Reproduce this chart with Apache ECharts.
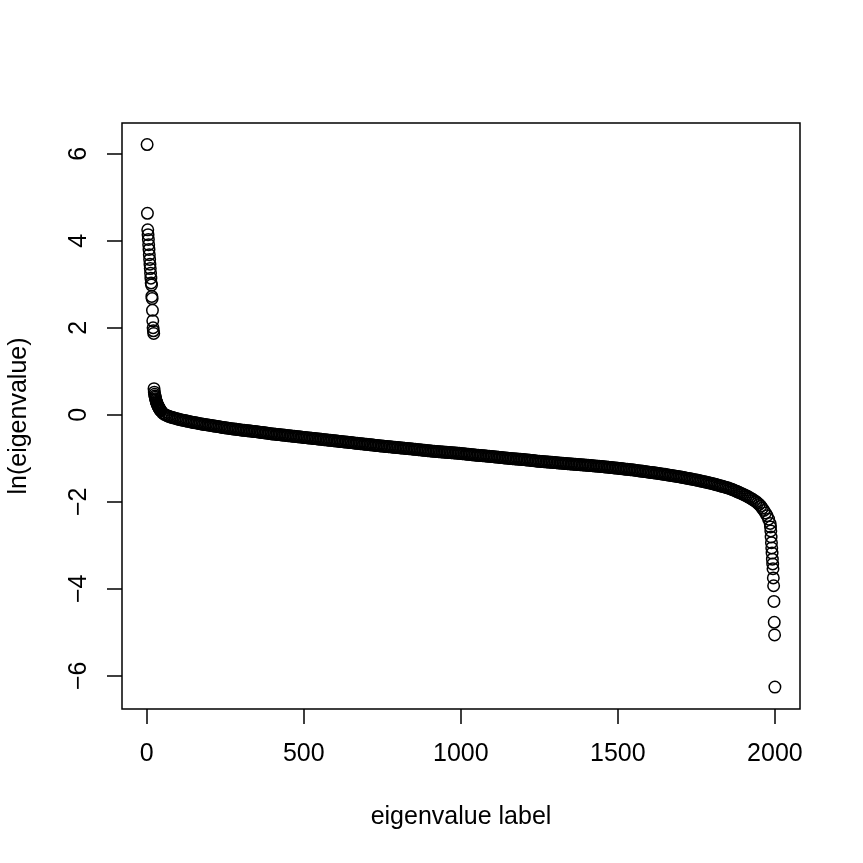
<!DOCTYPE html>
<html>
<head>
<meta charset="utf-8">
<script src="https://cdn.jsdelivr.net/npm/echarts@6/dist/echarts.min.js"></script>
<style>
html,body{margin:0;padding:0;background:#fff;}
#c{width:863px;height:863px;}
</style>
</head>
<body>
<div id="c"></div>
<script>
// x tick labels and y tick labels
const xTicks = [0, 500, 1000, 1500, 2000];
const yTicks = [-6, -4, -2, 0, 2, 4, 6];

// ln(eigenvalue) for labels 1..22 (isolated large values)
const highStart = 1;
const highValues = [6.21, 4.63, 4.25, 4.14, 4.03, 3.91, 3.80, 3.68, 3.57, 3.46, 3.36,
  3.25, 3.14, 3.03, 2.98, 2.72, 2.67, 2.40, 2.16, 2.00, 1.93, 1.87];

// labels 23..44, one per label
const headStart = 23;
const headValues = [0.60, 0.52, 0.47, 0.43, 0.40, 0.37, 0.34, 0.31, 0.29, 0.27, 0.25,
  0.23, 0.21, 0.20, 0.185, 0.17, 0.155, 0.14, 0.13, 0.12, 0.11, 0.10];

// labels 45..1985, read every 5th label along the dense band
const bodyStart = 45, bodyStep = 5;
const bodyValues = [
  0.09, 0.04, 0.015, -0.005, -0.02, -0.035, -0.05, -0.06, -0.07, -0.08,
  -0.09, -0.10, -0.11, -0.12, -0.125, -0.13, -0.14, -0.15, -0.155, -0.165,
  -0.17, -0.18, -0.185, -0.19, -0.20, -0.205, -0.21, -0.22, -0.225, -0.23,
  -0.235, -0.24, -0.245, -0.25, -0.26, -0.265, -0.27, -0.275, -0.28, -0.29,
  -0.295, -0.30, -0.305, -0.31, -0.315, -0.32, -0.325, -0.33, -0.335, -0.34,
  -0.345, -0.35, -0.354, -0.358, -0.362, -0.366, -0.37, -0.374, -0.378, -0.382,
  -0.386, -0.39, -0.395, -0.40, -0.405, -0.41, -0.415, -0.42, -0.425, -0.43,
  -0.435, -0.44, -0.444, -0.448, -0.452, -0.456, -0.46, -0.464, -0.468, -0.472,
  -0.476, -0.48, -0.484, -0.488, -0.492, -0.496, -0.50, -0.504, -0.508, -0.512,
  -0.516, -0.52, -0.524, -0.528, -0.532, -0.536, -0.54, -0.544, -0.548, -0.552,
  -0.556, -0.56, -0.564, -0.568, -0.572, -0.576, -0.58, -0.584, -0.588, -0.592,
  -0.596, -0.60, -0.604, -0.608, -0.612, -0.616, -0.62, -0.624, -0.628, -0.632,
  -0.636, -0.64, -0.644, -0.648, -0.652, -0.656, -0.66, -0.664, -0.668, -0.672,
  -0.676, -0.68, -0.684, -0.688, -0.692, -0.696, -0.70, -0.704, -0.708, -0.712,
  -0.716, -0.72, -0.724, -0.727, -0.731, -0.734, -0.738, -0.741, -0.745, -0.748,
  -0.752, -0.755, -0.759, -0.762, -0.766, -0.769, -0.773, -0.776, -0.78, -0.783,
  -0.787, -0.79, -0.794, -0.798, -0.802, -0.806, -0.81, -0.814, -0.818, -0.822,
  -0.826, -0.83, -0.833, -0.836, -0.839, -0.842, -0.845, -0.848, -0.851, -0.854,
  -0.857, -0.86, -0.863, -0.866, -0.869, -0.872, -0.875, -0.878, -0.881, -0.884,
  -0.887, -0.89, -0.894, -0.898, -0.902, -0.906, -0.91, -0.914, -0.918, -0.922,
  -0.926, -0.93, -0.933, -0.936, -0.939, -0.942, -0.945, -0.948, -0.951, -0.954,
  -0.957, -0.96, -0.964, -0.968, -0.972, -0.976, -0.98, -0.984, -0.988, -0.992,
  -0.996, -1.00, -1.003, -1.006, -1.009, -1.012, -1.015, -1.018, -1.021, -1.024,
  -1.027, -1.03, -1.034, -1.038, -1.042, -1.046, -1.05, -1.054, -1.058, -1.062,
  -1.066, -1.07, -1.073, -1.076, -1.079, -1.082, -1.085, -1.088, -1.091, -1.094,
  -1.097, -1.10, -1.103, -1.106, -1.109, -1.112, -1.115, -1.118, -1.121, -1.124,
  -1.127, -1.13, -1.133, -1.136, -1.139, -1.142, -1.145, -1.148, -1.151, -1.154,
  -1.157, -1.16, -1.163, -1.166, -1.169, -1.172, -1.175, -1.178, -1.181, -1.184,
  -1.187, -1.19, -1.194, -1.198, -1.202, -1.206, -1.21, -1.214, -1.218, -1.222,
  -1.226, -1.23, -1.234, -1.238, -1.242, -1.246, -1.25, -1.254, -1.258, -1.262,
  -1.266, -1.27, -1.275, -1.28, -1.285, -1.29, -1.295, -1.30, -1.305, -1.31,
  -1.315, -1.32, -1.325, -1.33, -1.335, -1.34, -1.345, -1.35, -1.355, -1.36,
  -1.365, -1.37, -1.376, -1.382, -1.388, -1.394, -1.40, -1.406, -1.412, -1.418,
  -1.424, -1.43, -1.437, -1.444, -1.451, -1.458, -1.465, -1.472, -1.479, -1.486,
  -1.493, -1.50, -1.508, -1.516, -1.524, -1.532, -1.54, -1.548, -1.556, -1.564,
  -1.572, -1.58, -1.59, -1.60, -1.61, -1.62, -1.63, -1.64, -1.65, -1.66,
  -1.67, -1.68, -1.693, -1.706, -1.72, -1.735, -1.75, -1.766, -1.782, -1.798,
  -1.814, -1.83, -1.848, -1.866, -1.886, -1.906, -1.928, -1.95, -1.974, -1.998,
  -2.03, -2.06, -2.10, -2.15, -2.20, -2.26, -2.32, -2.40, -2.50
];

// labels 1986..2000 (isolated small values)
const tailStart = 1986;
const tailValues = [-2.58, -2.67, -2.81, -2.94, -3.06, -3.18, -3.32, -3.43, -3.54,
  -3.75, -3.93, -4.29, -4.77, -5.06, -6.26];

const points = [];
highValues.forEach((v, i) => points.push([highStart + i, v]));
headValues.forEach((v, i) => points.push([headStart + i, v]));
bodyValues.forEach((v, i) => points.push([bodyStart + i * bodyStep, v]));
tailValues.forEach((v, i) => points.push([tailStart + i, v]));

const FONT = "'Liberation Sans', Arial, Helvetica, sans-serif";
const fmt = v => (v < 0 ? '\u2212' + Math.abs(v) : String(v));
const chart = echarts.init(document.getElementById('c'), null, {renderer: 'canvas'});
chart.setOption({
  animation: false,
  backgroundColor: '#fff',
  grid: {
    left: 122, right: 63, top: 123, bottom: 154,
    show: true, borderColor: '#000', borderWidth: 1.5, backgroundColor: 'transparent'
  },
  xAxis: {
    type: 'value', min: -78.96, max: 2079.96,
    axisLine: {show: false, onZero: false},
    splitLine: {show: false},
    axisTick: {show: true, customValues: xTicks, length: 15, lineStyle: {color: '#000', width: 1.5}},
    axisLabel: {show: true, customValues: xTicks, formatter: fmt, margin: 33, fontSize: 25, color: '#000', fontFamily: FONT}
  },
  yAxis: {
    type: 'value', min: -6.763, max: 6.706,
    axisLine: {show: false, onZero: false},
    splitLine: {show: false},
    axisTick: {show: true, customValues: yTicks, length: 15, lineStyle: {color: '#000', width: 1.5}},
    axisLabel: {show: true, customValues: yTicks, formatter: fmt, rotate: 90, margin: 30, fontSize: 25, color: '#000', fontFamily: FONT}
  },
  graphic: [
    {type: 'text', x: 461, y: 817, style: {text: 'eigenvalue label', fontSize: 25, fontFamily: FONT, fill: '#000', textAlign: 'center', textVerticalAlign: 'middle'}},
    {type: 'text', x: 19, y: 416, rotation: Math.PI / 2, style: {text: 'ln(eigenvalue)', fontSize: 25, fontFamily: FONT, fill: '#000', textAlign: 'center', textVerticalAlign: 'middle'}}
  ],
  series: [{
    type: 'scatter',
    data: points,
    symbol: 'circle',
    symbolSize: 11.5,
    silent: true,
    clip: false,
    itemStyle: {color: 'rgba(0,0,0,0)', borderColor: '#000', borderWidth: 1.5, opacity: 1}
  }]
});
</script>
</body>
</html>
